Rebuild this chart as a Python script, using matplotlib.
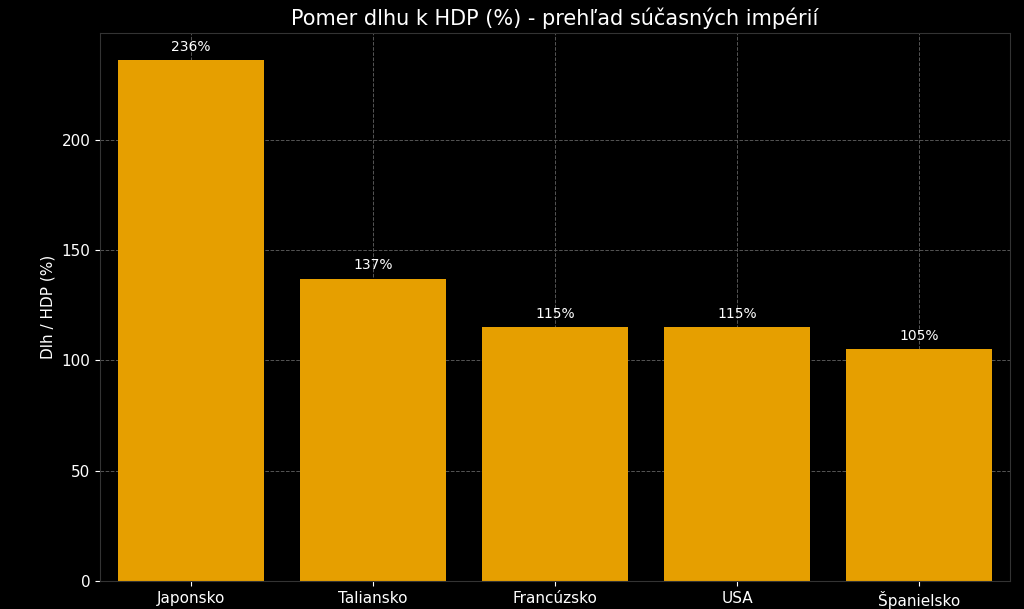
import matplotlib
matplotlib.use("Agg")
import matplotlib.pyplot as plt

countries = ["Japonsko", "Taliansko", "Francúzsko", "USA", "Španielsko"]
values = [236, 137, 115, 115, 105]
labels = ["236%", "137%", "115%", "115%", "105%"]

plt.rcParams['font.family'] = ['DejaVu Sans']
fig = plt.figure(figsize=(10.24, 6.09), dpi=100, facecolor="black")
ax = fig.add_axes([0.0977, 0.046, 0.8887, 0.90], facecolor="black")
x = range(len(countries))
bars = ax.bar(x, values, width=0.8, color="#E69F00", zorder=2)
for xi, v, l in zip(x, values, labels):
    ax.text(xi, v + 3, l, ha="center", va="bottom", color="white", fontsize=10)
ax.set_xticks(list(x))
ax.set_xticklabels(countries)
ax.set_xlim(-0.5, 4.5)
ax.set_ylim(0, 248.5)
ax.set_yticks([0, 50, 100, 150, 200])
ax.grid(True, color="#555555", linestyle="--", linewidth=0.7, zorder=0)
ax.tick_params(colors="white", labelsize=11)
for s in ax.spines.values():
    s.set_color("#333333")
ax.set_ylabel("Dlh / HDP (%)", color="white", fontsize=11)
ax.set_title("Pomer dlhu k HDP (%) - prehľad súčasných impérií", color="white", fontsize=15, pad=6)
fig.savefig("out.png", dpi=100, facecolor="black")
